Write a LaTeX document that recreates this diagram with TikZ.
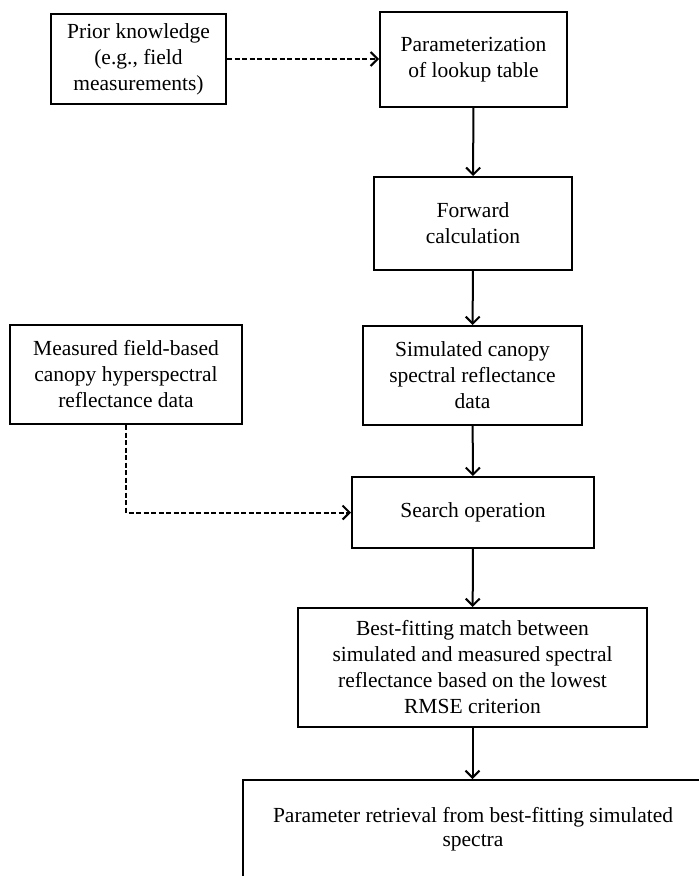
\documentclass[tikz,border=0pt]{standalone}
\usepackage{fontspec}
\setmainfont{Liberation Serif}
\usetikzlibrary{arrows.meta}

\begin{document}
\begin{tikzpicture}[x=1pt, y=-1pt, every node/.style={font=\fontsize{21.5}{26}\selectfont}]
    \tikzset{
        box/.style={draw, line width=2pt, align=center, inner sep=0pt},
        flow/.style={line width=2pt, -{Straight Barb[length=7pt, width=14pt, line width=2pt]}},
        feed/.style={flow, dash pattern=on 5pt off 2.5pt},
    }
    \useasboundingbox (0,0) rectangle (699,876);
    \clip (0,0) rectangle (699,876);

    % ==========================================
    % MAIN COLUMN
    % ==========================================
    \node[box, minimum width=187, minimum height=95] (param) at (473.5, 59.5) {Parameterization\\of lookup table};
    \node[box, minimum width=198, minimum height=93] (fwd) at (473, 223.5) {Forward\\calculation};
    \node[box, minimum width=219, minimum height=99] (sim) at (472.5, 375.5) {Simulated canopy\\spectral reflectance\\data};
    \node[box, minimum width=242, minimum height=71] (search) at (473, 512.5) {Search operation};
    \node[box, minimum width=349, minimum height=119] (best) at (472.5, 667.5) {Best-fitting match between\\simulated and measured spectral\\reflectance based on the lowest\\RMSE criterion};
    % last box runs off the page
    \node[box, minimum width=466, minimum height=104] (retr) at (476, 832) {};
    \node at (473, 817) (retrtext) {Parameter retrieval from best-fitting simulated};
    \node[below=0pt] at (retrtext.south) (retrtext2) {spectra};

    % ==========================================
    % SIDE INPUTS
    % ==========================================
    \node[box, minimum width=175, minimum height=90] (prior) at (138.5, 59) {Prior knowledge\\(e.g., field\\measurements)};
    \node[box, minimum width=232, minimum height=99] (meas) at (126, 374.5) {Measured field-based\\canopy hyperspectral\\reflectance data};

    % Arrows
    \draw[flow] (param) -- (fwd);
    \draw[flow] (fwd) -- (sim);
    \draw[flow] (sim) -- (search);
    \draw[flow] (search) -- (best);
    \draw[flow] (best.south) -- (best.south |- retr.north);

    % Dashed inputs
    \draw[feed] (prior.east) -- (param.west |- prior.east);
    \draw[feed] (meas.south) |- (search.west);
\end{tikzpicture}
\end{document}
